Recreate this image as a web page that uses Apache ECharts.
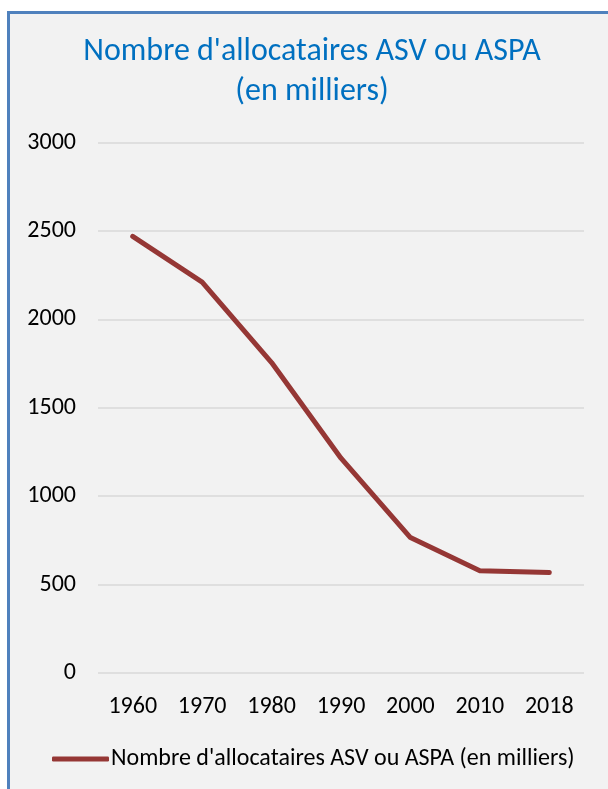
<!DOCTYPE html>
<html>
<head>
<meta charset="utf-8">
<script src="https://cdn.jsdelivr.net/npm/echarts@6/dist/echarts.min.js"></script>
<style>
html,body{margin:0;padding:0;background:#ffffff;}
#chart{width:608px;height:789px;}
</style>
</head>
<body>
<div id="chart"></div>
<script>
const titleText = "Nombre d'allocataires ASV ou ASPA\n(en milliers)";
const seriesName = "Nombre d'allocataires ASV ou ASPA (en milliers)";
const years = ["1960", "1970", "1980", "1990", "2000", "2010", "2018"];
const allocataires = [2470, 2211, 1756, 1215, 766, 579, 568];
const yMin = 0, yMax = 3000, yStep = 500;

const FONT = 'Carlito, Lato, sans-serif';
const LINE_COLOR = '#953735';
const chart = echarts.init(document.getElementById('chart'), null, {renderer: 'canvas'});
chart.setOption({
  backgroundColor: 'transparent',
  animation: false,
  graphic: [{
    type: 'rect', z: -10, silent: true,
    shape: {x: 8.5, y: 12.5, width: 700, height: 900},
    style: {fill: '#F2F2F2', stroke: '#4F81BD', lineWidth: 3}
  }],
  title: {
    text: titleText,
    left: 312,
    top: 32,
    padding: 0,
    textAlign: 'center',
    textStyle: {fontFamily: FONT, fontSize: 32, lineHeight: 40, fontWeight: 'normal', color: '#0070C0'}
  },
  legend: {
    data: [{name: seriesName, icon: 'roundRect', itemStyle: {color: LINE_COLOR}}],
    left: 52,
    top: 747,
    padding: 0,
    itemWidth: 57,
    itemHeight: 5,
    itemGap: 0,
    textStyle: {fontFamily: FONT, fontSize: 24, color: '#000000', padding: [0, 0, 0, -3]}
  },
  grid: {left: 98, right: 24, top: 142.6, bottom: 116, containLabel: false},
  xAxis: {
    type: 'category',
    data: years,
    boundaryGap: true,
    axisLine: {show: false},
    axisTick: {show: false},
    axisLabel: {fontFamily: FONT, fontSize: 24, color: '#000000', margin: 22}
  },
  yAxis: {
    type: 'value',
    min: yMin, max: yMax, interval: yStep,
    axisLine: {show: false},
    axisTick: {show: false},
    splitLine: {lineStyle: {color: '#D9D9D9', width: 1.5}},
    axisLabel: {fontFamily: FONT, fontSize: 24, color: '#000000', margin: 22, formatter: v => String(v)}
  },
  series: [{
    name: seriesName,
    type: 'line',
    data: allocataires,
    symbol: 'none',
    lineStyle: {color: LINE_COLOR, width: 5, cap: 'round', join: 'round'},
    itemStyle: {color: LINE_COLOR}
  }]
});
</script>
</body>
</html>
